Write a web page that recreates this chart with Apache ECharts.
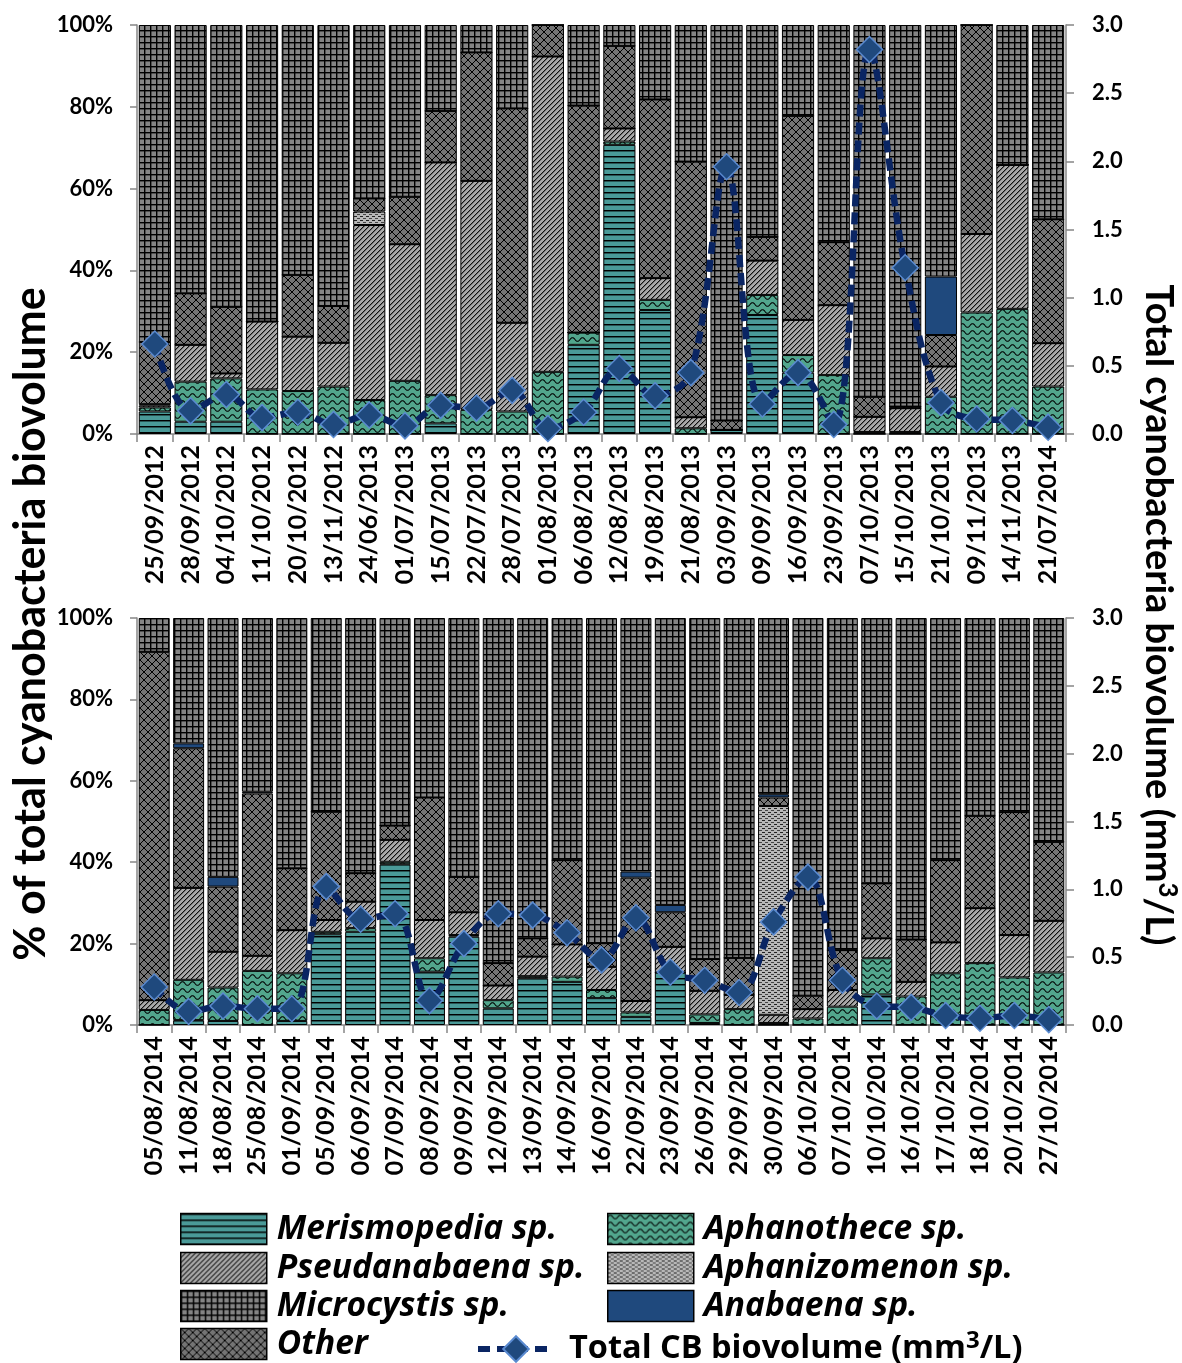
<!DOCTYPE html>
<html>
<head>
<meta charset="utf-8">
<script src="https://cdn.jsdelivr.net/npm/echarts@6/dist/echarts.min.js"></script>
<style>
  html, body { margin: 0; padding: 0; background: #ffffff; }
  #chart { width: 1182px; height: 1363px; }
</style>
</head>
<body>
<div id="chart"></div>
<script>
// ---- Sampling campaign 1 (2012-2014) ----
const datesA = ['25/09/2012','28/09/2012','04/10/2012','11/10/2012','20/10/2012','13/11/2012',
  '24/06/2013','01/07/2013','15/07/2013','22/07/2013','28/07/2013','01/08/2013','06/08/2013',
  '12/08/2013','19/08/2013','21/08/2013','03/09/2013','09/09/2013','16/09/2013','23/09/2013',
  '07/10/2013','15/10/2013','21/10/2013','09/11/2013','14/11/2013','21/07/2014'];
const merisA   = [5.5, 3.0, 3.0, 0, 0, 0, 0, 0, 2.6, 0, 0, 0, 21.8, 70.7, 30.3, 0, 1.0, 29.1, 15.0, 0, 0, 0, 0, 0, 0, 0];
const aphanoA  = [1.0, 9.8, 10.6, 10.9, 10.5, 11.6, 8.3, 13.0, 6.9, 5.9, 5.5, 15.2, 3.0, 0.8, 2.5, 1.4, 0, 4.9, 4.3, 14.4, 0.5, 0.5, 9.1, 29.7, 30.6, 11.6];
const pseudA   = [0.5, 9.0, 1.2, 16.6, 13.3, 10.7, 42.8, 33.4, 56.9, 56.0, 21.7, 77.1, 0, 3.2, 5.3, 2.7, 0, 8.4, 8.6, 17.1, 3.7, 5.8, 7.4, 19.2, 35.2, 10.6];
const aphanizA = [0.3, 0, 0, 0, 0, 0, 3.3, 0, 0, 0, 0, 0, 0, 0, 0, 0, 0, 0, 0, 0, 0, 0, 0, 0, 0, 0];
const otherA   = [15.2, 12.6, 16.3, 0, 15.1, 9.0, 3.2, 11.6, 12.6, 31.4, 52.4, 7.7, 55.5, 20.2, 43.7, 62.5, 2.3, 5.8, 49.9, 15.4, 4.9, 0.4, 7.7, 51.1, 0, 30.3];
const anabA    = [0, 0, 0, 0, 0, 0, 0, 0, 0, 0, 0, 0, 0, 0, 0, 0, 0, 0, 0, 0, 0, 0, 14.3, 0, 0, 0];
const microA   = [77.5, 65.6, 68.9, 72.5, 61.1, 68.7, 42.4, 42.0, 21.0, 6.7, 20.4, 0, 19.7, 5.1, 18.2, 33.4, 96.7, 51.8, 22.2, 53.1, 90.9, 93.3, 61.5, 0, 34.2, 47.5];
const totalA   = [0.66, 0.17, 0.29, 0.12, 0.16, 0.07, 0.14, 0.06, 0.21, 0.19, 0.32, 0.04, 0.16, 0.48, 0.28, 0.45, 1.96, 0.22, 0.45, 0.07, 2.82, 1.22, 0.23, 0.11, 0.10, 0.05];

// ---- Sampling campaign 2 (2014) ----
const datesB = ['05/08/2014','11/08/2014','18/08/2014','25/08/2014','01/09/2014','05/09/2014',
  '06/09/2014','07/09/2014','08/09/2014','09/09/2014','12/09/2014','13/09/2014','14/09/2014',
  '16/09/2014','22/09/2014','23/09/2014','26/09/2014','29/09/2014','30/09/2014','06/10/2014',
  '07/10/2014','10/10/2014','16/10/2014','17/10/2014','18/10/2014','20/10/2014','27/10/2014'];
const merisB   = [0, 1.2, 1.0, 0, 1.0, 22.3, 22.9, 39.5, 13.1, 21.7, 4.1, 11.5, 10.6, 6.6, 2.0, 12.9, 0.5, 0, 0, 0, 0, 7.5, 0, 0, 0, 0, 0];
const aphanoB  = [3.7, 9.9, 8.2, 13.3, 11.7, 0.6, 0.9, 0.6, 3.3, 0.4, 2.0, 0.5, 1.3, 2.0, 1.1, 0, 2.1, 3.9, 0.5, 1.6, 4.5, 8.9, 7.0, 12.7, 15.2, 11.7, 12.9];
const pseudB   = [2.4, 22.6, 8.8, 3.7, 10.6, 2.9, 6.5, 5.4, 9.4, 5.6, 3.6, 4.8, 7.9, 5.7, 2.8, 6.3, 5.8, 3.5, 2.0, 2.3, 4.1, 4.9, 3.6, 7.6, 13.5, 10.4, 12.7];
const aphanizB = [0, 0, 0, 0, 0, 0, 0, 0, 0, 0, 0, 0, 0, 0, 0, 0, 0, 0, 51.3, 0, 0, 0, 0, 0, 0, 0, 0];
const otherB   = [85.6, 34.3, 16.0, 39.9, 15.2, 26.6, 7.0, 3.5, 30.1, 8.7, 5.5, 4.5, 20.7, 5.8, 30.3, 8.5, 7.8, 9.1, 2.1, 3.3, 9.8, 13.5, 10.4, 20.2, 22.7, 30.2, 19.4];
const anabB    = [0, 1.2, 2.4, 0.4, 0, 0, 0, 0, 0, 0, 0, 0, 0, 0, 1.5, 1.8, 0, 0, 0.8, 0, 0, 0, 0, 0, 0, 0, 0];
const microB   = [8.3, 30.8, 63.6, 42.7, 61.5, 47.6, 62.7, 51.0, 44.1, 63.6, 84.8, 78.7, 59.5, 79.9, 62.3, 70.5, 83.8, 83.5, 43.3, 92.8, 81.6, 65.2, 79.0, 59.5, 48.6, 47.7, 55.0];
const totalB   = [0.28, 0.10, 0.14, 0.12, 0.12, 1.02, 0.78, 0.82, 0.18, 0.60, 0.82, 0.81, 0.68, 0.48, 0.79, 0.39, 0.33, 0.24, 0.76, 1.09, 0.33, 0.14, 0.13, 0.07, 0.05, 0.07, 0.04];

const pctTicks = [0, 20, 40, 60, 80, 100];
const volTicks = [0, 0.5, 1.0, 1.5, 2.0, 2.5, 3.0];

const N_MERIS = 'Merismopedia sp.';
const N_APHANO = 'Aphanothece sp.';
const N_PSEUD = 'Pseudanabaena sp.';
const N_APHANIZ = 'Aphanizomenon sp.';
const N_OTHER = 'Other';
const N_ANAB = 'Anabaena sp.';
const N_MICRO = 'Microcystis sp.';
const N_TOTAL = 'Total CB biovolume (mm3/L)';

// Hatch fills painted on small tiles and repeated
function tile(w, h, bg, draw) {
  const c = document.createElement('canvas');
  c.width = w; c.height = h;
  const g = c.getContext('2d');
  g.fillStyle = bg; g.fillRect(0, 0, w, h);
  g.fillStyle = '#000'; g.strokeStyle = '#000';
  draw(g, w, h);
  return { image: c, repeat: 'repeat' };
}
const fillMeris = tile(6, 6, '#4a9a98', g => {
  g.fillRect(0, 0, 6, 1);
  g.fillStyle = 'rgba(0,0,0,0.45)'; g.fillRect(0, 1, 6, 1);
});
const fillAphano = tile(10, 7, '#52a68d', g => {
  g.lineWidth = 1.1;
  g.beginPath();
  for (let x = -1; x <= 11; x += 0.5) {
    const y = 3.5 - 1.8 * Math.sin(2 * Math.PI * x / 10);
    if (x === -1) g.moveTo(x, y); else g.lineTo(x, y);
  }
  g.stroke();
});
const fillPseud = tile(5, 5, '#a9a9a9', g => {
  for (let i = 0; i < 5; i++) {
    g.fillStyle = '#111'; g.fillRect(i, 4 - i, 1, 1);
    g.fillStyle = 'rgba(0,0,0,0.35)'; g.fillRect(i, (5 - i) % 5, 1, 1);
  }
});
const fillAphaniz = tile(6, 4, '#b8b8b8', g => {
  g.fillStyle = '#222'; g.fillRect(0, 0, 3, 1);
  g.fillStyle = '#444'; g.fillRect(3, 2, 3, 1);
});
const fillOther = tile(8, 8, '#747474', g => {
  for (let i = 0; i < 8; i++) {
    g.fillRect(i, i, 1, 1);
    g.fillRect(i, 7 - i, 1, 1);
  }
});
const fillMicro = tile(6, 6, '#848484', g => {
  g.fillRect(0, 0, 6, 1);
  g.fillRect(0, 0, 1, 6);
  g.fillStyle = 'rgba(0,0,0,0.4)';
  g.fillRect(0, 1, 6, 1);
  g.fillRect(1, 0, 1, 6);
});
const fillAnab = '#1f497d';

const FONT = 'Lato';
const LEG_FONT = 'Open Sans';
const axisGray = '#878787';
const lineNavy = '#0a2563';

function bars(gi, cols) {
  const stack = 'stack' + gi;
  return cols.map(([name, data, fill]) => ({
    name, type: 'bar', stack,
    xAxisIndex: gi, yAxisIndex: gi * 2,
    data,
    barCategoryGap: '10%',
    itemStyle: { color: fill, borderColor: '#000', borderWidth: 1 },
    emphasis: { disabled: true },
    z: 2
  }));
}
function totalLine(gi, data) {
  return {
    name: N_TOTAL, type: 'line',
    xAxisIndex: gi, yAxisIndex: gi * 2 + 1,
    data,
    smooth: 0.35,
    symbol: 'diamond', symbolSize: 26,
    lineStyle: { color: lineNavy, width: 6.5, type: [12, 6] },
    itemStyle: { color: '#1f497d', borderColor: '#5a8ad0', borderWidth: 1.5 },
    emphasis: { disabled: true },
    z: 5
  };
}

function xAxis(gi, dates) {
  return {
    type: 'category', gridIndex: gi, data: dates,
    axisLine: { lineStyle: { color: axisGray, width: 1.5 } },
    axisTick: { show: true, length: 8, lineStyle: { color: axisGray, width: 1.5 } },
    axisLabel: {
      interval: 0, rotate: 90, margin: 11,
      fontFamily: FONT, fontWeight: 'bold', fontSize: 25, color: '#000'
    },
    splitLine: { show: false }
  };
}
function pctAxis(gi) {
  return {
    type: 'value', gridIndex: gi, position: 'left',
    min: pctTicks[0], max: pctTicks[pctTicks.length - 1], interval: pctTicks[1] - pctTicks[0],
    axisLine: { show: true, lineStyle: { color: axisGray, width: 1.5 } },
    axisTick: { show: true, length: 7, lineStyle: { color: axisGray, width: 1.5 } },
    axisLabel: { formatter: '{value}%', margin: 24, fontFamily: FONT, fontWeight: 'bold', fontSize: 22, color: '#000' },
    splitLine: { show: false }
  };
}
function volAxis(gi) {
  return {
    type: 'value', gridIndex: gi, position: 'right',
    min: volTicks[0], max: volTicks[volTicks.length - 1], interval: volTicks[1] - volTicks[0],
    axisLine: { show: true, lineStyle: { color: axisGray, width: 1.5 } },
    axisTick: { show: true, length: 8, lineStyle: { color: axisGray, width: 1.5 } },
    axisLabel: { formatter: v => v.toFixed(1), margin: 26, fontFamily: FONT, fontWeight: 'bold', fontSize: 22, color: '#000' },
    splitLine: { show: false }
  };
}

// One legend box per entry, laid out as a two-column key
function speciesKey(name, left, top) {
  return {
    left, top, padding: 0, orient: 'horizontal',
    itemWidth: 86, itemHeight: 31, icon: 'rect', selectedMode: false,
    data: [name],
    itemStyle: { borderColor: '#000', borderWidth: 1.5 },
    textStyle: {
      fontFamily: LEG_FONT, fontWeight: 'bold', fontStyle: 'italic', fontSize: 33.5,
      color: '#000', lineHeight: 31, padding: [0, 0, 0, 5]
    }
  };
}
const rowTop = [1212, 1251, 1289, 1327];

const option = {
  animation: false,
  backgroundColor: '#ffffff',
  textStyle: { fontFamily: FONT },
  grid: [
    { left: 137, right: 116, top: 25, height: 409 },
    { left: 137, right: 116, top: 618, height: 407 }
  ],
  xAxis: [xAxis(0, datesA), xAxis(1, datesB)],
  yAxis: [pctAxis(0), volAxis(0), pctAxis(1), volAxis(1)],
  legend: [
    speciesKey(N_MERIS, 180, rowTop[0]),
    speciesKey(N_PSEUD, 180, rowTop[1]),
    speciesKey(N_MICRO, 180, rowTop[2]),
    speciesKey(N_OTHER, 180, rowTop[3]),
    speciesKey(N_APHANO, 607, rowTop[0]),
    speciesKey(N_APHANIZ, 607, rowTop[1]),
    speciesKey(N_ANAB, 607, rowTop[2]),
    {
      left: 475, top: 1329, orient: 'horizontal', padding: 0,
      itemWidth: 76, itemHeight: 32, selectedMode: false,
      data: [N_TOTAL],
      lineStyle: { color: lineNavy, width: 6, type: [12, 7] },
      formatter: () => 'Total CB biovolume (mm{sup|3}/L)',
      textStyle: {
        fontFamily: LEG_FONT, fontWeight: 'bold', fontSize: 32.5, color: '#000',
        lineHeight: 32, padding: [0, 0, 0, 10],
        rich: { sup: { fontFamily: LEG_FONT, fontWeight: 'bold', fontSize: 24, color: '#000', padding: [0, 0, 16, 0] } }
      }
    }
  ],
  graphic: [
    {
      type: 'text', x: 31, y: 624, rotation: Math.PI / 2,
      style: {
        text: '% of total cyanobacteria biovolume',
        fontFamily: FONT, fontWeight: 'bold', fontSize: 43, fill: '#000',
        align: 'center', verticalAlign: 'middle'
      }
    },
    {
      type: 'text', x: 1158, y: 615, rotation: -Math.PI / 2,
      style: {
        text: 'Total cyanobacteria biovolume (mm{sup|3}/L)',
        fontFamily: FONT, fontWeight: 'bold', fontSize: 38, fill: '#000',
        align: 'center', verticalAlign: 'middle',
        rich: { sup: { fontFamily: FONT, fontWeight: 'bold', fontSize: 26, fill: '#000', padding: [0, 0, 18, 0] } }
      }
    }
  ],
  series: [
    ...bars(0, [
      [N_MERIS, merisA, fillMeris], [N_APHANO, aphanoA, fillAphano], [N_PSEUD, pseudA, fillPseud],
      [N_APHANIZ, aphanizA, fillAphaniz], [N_OTHER, otherA, fillOther], [N_ANAB, anabA, fillAnab],
      [N_MICRO, microA, fillMicro]
    ]),
    ...bars(1, [
      [N_MERIS, merisB, fillMeris], [N_APHANO, aphanoB, fillAphano], [N_PSEUD, pseudB, fillPseud],
      [N_APHANIZ, aphanizB, fillAphaniz], [N_OTHER, otherB, fillOther], [N_ANAB, anabB, fillAnab],
      [N_MICRO, microB, fillMicro]
    ]),
    totalLine(0, totalA),
    totalLine(1, totalB)
  ]
};

const chart = echarts.init(document.getElementById('chart'), null, { renderer: 'canvas' });
chart.setOption(option);
</script>
</body>
</html>
